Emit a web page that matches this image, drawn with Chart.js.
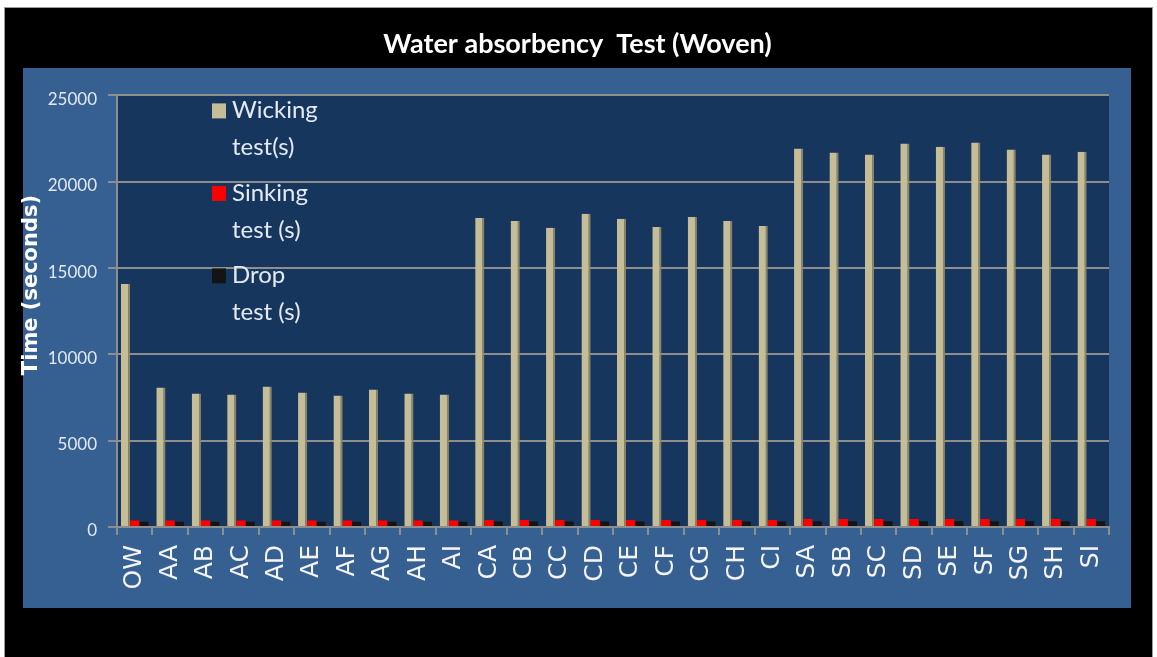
<!DOCTYPE html>
<html><head><meta charset="utf-8">
<script src="https://cdn.jsdelivr.net/npm/chart.js@4.4.0/dist/chart.umd.min.js"></script>
<style>html,body{margin:0;padding:0;background:#fff;overflow:hidden}#wrap{width:1157px;height:657px;position:relative}</style>
</head><body><div id="wrap"><canvas id="c" width="1157" height="657"></canvas></div>
<script>
const chartTitle = 'Water absorbency  Test (Woven)';
const yAxisTitle = 'Time (seconds)';
const categories = ['OW','AA','AB','AC','AD','AE','AF','AG','AH','AI','CA','CB','CC','CD','CE','CF','CG','CH','CI','SA','SB','SC','SD','SE','SF','SG','SH','SI'];
const seriesNames = ['Wicking test(s)', 'Sinking test (s)', 'Drop test (s)'];
const legendLines = [['Wicking','test(s)'],['Sinking','test (s)'],['Drop','test (s)']];
const wicking = [14070, 8080, 7730, 7670, 8140, 7790, 7620, 7970, 7730, 7670, 17900, 17730, 17330, 18140, 17850, 17380, 17960, 17730, 17440, 21920, 21690, 21570, 22210, 22030, 22270, 21860, 21570, 21740];
const sinking = [380, 380, 380, 380, 380, 380, 380, 380, 380, 380, 400, 400, 400, 400, 400, 400, 400, 400, 400, 470, 470, 470, 470, 470, 470, 470, 470, 470];
const drop = [300, 300, 300, 300, 300, 300, 300, 300, 300, 300, 320, 320, 320, 320, 320, 320, 320, 320, 320, 340, 340, 340, 340, 340, 340, 340, 340, 340];
const yTicks = [0, 5000, 10000, 15000, 20000, 25000];
const seriesColors = ['#C4BD97', '#FF0000', '#141414'];

const backdrop = {
  id: 'backdrop',
  beforeDraw(chart) {
    const {ctx, chartArea: a} = chart;
    ctx.save();
    ctx.fillStyle = '#ffffff';
    ctx.fillRect(0, 0, chart.width, chart.height);
    ctx.fillStyle = '#000000';
    ctx.fillRect(4, 8, 1149, 649);
    ctx.strokeStyle = '#9a9a9a';
    ctx.lineWidth = 1;
    ctx.strokeRect(4.5, 7.5, 1148, 660);
    ctx.fillStyle = '#366092';
    ctx.fillRect(23, 68, 1108, 540);
    ctx.fillStyle = '#17365D';
    ctx.fillRect(a.left, a.top, a.right - a.left, a.bottom - a.top);
    ctx.restore();
  }
};

const overlay = {
  id: 'overlay',
  afterDraw(chart) {
    const {ctx, chartArea: a} = chart;
    ctx.save();
    ctx.translate(32, 285);
    ctx.rotate(-Math.PI / 2);
    ctx.fillStyle = '#ffffff';
    ctx.font = 'bold 21px "DejaVu Sans"';
    ctx.textAlign = 'center';
    ctx.textBaseline = 'middle';
    ctx.fillText(yAxisTitle, 0, 0);
    ctx.restore();
    ctx.save();
    ctx.font = '24px Lato';
    ctx.textBaseline = 'middle';
    ctx.textAlign = 'left';
    const x0 = a.left + 95, y0 = a.top + 15;
    chart.data.datasets.forEach((ds, i) => {
      const y = y0 + i * 82.5;
      ctx.fillStyle = ds.backgroundColor;
      ctx.fillRect(x0, y - 7, 14, 15);
      ctx.fillStyle = '#E4EAF2';
      legendLines[i].forEach((t, j) => ctx.fillText(t, x0 + 20, y + j * 37));
    });
    ctx.restore();
  }
};

new Chart(document.getElementById('c'), {
  type: 'bar',
  data: {
    labels: categories,
    datasets: [
      {label: seriesNames[0], data: wicking, backgroundColor: seriesColors[0], borderColor: '#8A8466', borderWidth: {left: 0, right: 2, top: 0, bottom: 0}, categoryPercentage: 0.78, barPercentage: 1.0},
      {label: seriesNames[1], data: sinking, backgroundColor: seriesColors[1], borderWidth: 0, categoryPercentage: 0.78, barPercentage: 1.0},
      {label: seriesNames[2], data: drop, backgroundColor: seriesColors[2], borderWidth: 0, categoryPercentage: 0.78, barPercentage: 1.0}
    ]
  },
  options: {
    responsive: false,
    animation: false,
    devicePixelRatio: 1,
    layout: {padding: {left: 18, right: 20, top: 0, bottom: 0}},
    plugins: {
      legend: {display: false},
      tooltip: {enabled: false},
      title: {display: true, text: chartTitle, color: '#ffffff', font: {family: 'Lato', size: 27, weight: 'bold'}, padding: {top: 28, bottom: 35}}
    },
    scales: {
      x: {
        ticks: {color: '#F4F4F4', font: {family: 'DejaVu Sans', size: 25}, maxRotation: 90, minRotation: 90, padding: 10, autoSkip: false},
        grid: {drawOnChartArea: false, color: '#8E8E8E', lineWidth: 2, tickLength: 8, offset: true},
        border: {color: '#8E8E8E', width: 2},
        afterFit: s => { s.height = 130; }
      },
      y: {
        min: 0, max: 25000,
        afterBuildTicks: s => { s.ticks = yTicks.map(v => ({value: v})); },
        ticks: {color: '#E3E9F1', font: {family: 'Lato', size: 17}, padding: 11, labelOffset: 4, callback: v => String(v)},
        grid: {color: '#8E8E8E', lineWidth: 2, tickLength: 9},
        border: {color: '#8E8E8E', width: 2},
        afterFit: s => { s.width = 99; }
      },
      yR: {
        position: 'right', display: true,
        ticks: {display: false}, grid: {display: false}, border: {display: false},
        afterFit: s => { s.width = 28; }
      }
    }
  },
  plugins: [backdrop, overlay]
});
</script></body></html>
